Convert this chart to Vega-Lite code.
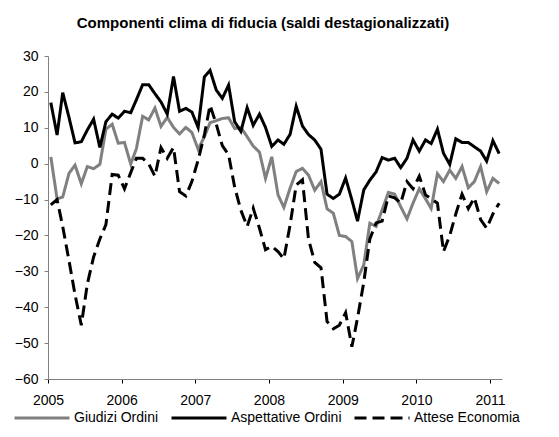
{
"$schema": "https://vega.github.io/schema/vega-lite/v6.json",
"width": 454, "height": 323,
"autosize": {"type": "none"},
"padding": {"left": 48, "top": 56, "right": 57, "bottom": 58},
"background": "white",
"config": {"view": {"stroke": null}, "font": "Liberation Sans"},
"title": {"text": "Componenti clima di fiducia (saldi destagionalizzati)", "font": "Liberation Sans", "fontSize": 15, "fontWeight": "bold", "color": "#000000", "anchor": "middle", "dx": -12, "offset": 18},
"data": {"values": [
{"d":"2005-01-15","s":"Giudizi Ordini","v":1.9},{"d":"2005-02-15","s":"Giudizi Ordini","v":-9.8},{"d":"2005-03-15","s":"Giudizi Ordini","v":-9.3},{"d":"2005-04-15","s":"Giudizi Ordini","v":-2.7},{"d":"2005-05-15","s":"Giudizi Ordini","v":-0.4},{"d":"2005-06-15","s":"Giudizi Ordini","v":-5.6},{"d":"2005-07-15","s":"Giudizi Ordini","v":-0.8},{"d":"2005-08-15","s":"Giudizi Ordini","v":-1.4},{"d":"2005-09-15","s":"Giudizi Ordini","v":-0.2},{"d":"2005-10-15","s":"Giudizi Ordini","v":9.6},{"d":"2005-11-15","s":"Giudizi Ordini","v":11},{"d":"2005-12-15","s":"Giudizi Ordini","v":5.7},
{"d":"2006-01-15","s":"Giudizi Ordini","v":5.9},{"d":"2006-02-15","s":"Giudizi Ordini","v":-0.1},{"d":"2006-03-15","s":"Giudizi Ordini","v":4.2},{"d":"2006-04-15","s":"Giudizi Ordini","v":13.2},{"d":"2006-05-15","s":"Giudizi Ordini","v":12.2},{"d":"2006-06-15","s":"Giudizi Ordini","v":15.5},{"d":"2006-07-15","s":"Giudizi Ordini","v":10.4},{"d":"2006-08-15","s":"Giudizi Ordini","v":12.9},{"d":"2006-09-15","s":"Giudizi Ordini","v":10.1},{"d":"2006-10-15","s":"Giudizi Ordini","v":8.3},{"d":"2006-11-15","s":"Giudizi Ordini","v":10.1},{"d":"2006-12-15","s":"Giudizi Ordini","v":8.7},
{"d":"2007-01-15","s":"Giudizi Ordini","v":4},{"d":"2007-02-15","s":"Giudizi Ordini","v":7.5},{"d":"2007-03-15","s":"Giudizi Ordini","v":11.4},{"d":"2007-04-15","s":"Giudizi Ordini","v":12},{"d":"2007-05-15","s":"Giudizi Ordini","v":12.6},{"d":"2007-06-15","s":"Giudizi Ordini","v":12.8},{"d":"2007-07-15","s":"Giudizi Ordini","v":9.8},{"d":"2007-08-15","s":"Giudizi Ordini","v":10.1},{"d":"2007-09-15","s":"Giudizi Ordini","v":7.5},{"d":"2007-10-15","s":"Giudizi Ordini","v":4.9},{"d":"2007-11-15","s":"Giudizi Ordini","v":3.2},{"d":"2007-12-15","s":"Giudizi Ordini","v":-4.1},
{"d":"2008-01-15","s":"Giudizi Ordini","v":1.9},{"d":"2008-02-15","s":"Giudizi Ordini","v":-8.7},{"d":"2008-03-15","s":"Giudizi Ordini","v":-12.2},{"d":"2008-04-15","s":"Giudizi Ordini","v":-6.8},{"d":"2008-05-15","s":"Giudizi Ordini","v":-2.2},{"d":"2008-06-15","s":"Giudizi Ordini","v":-1.3},{"d":"2008-07-15","s":"Giudizi Ordini","v":-3.2},{"d":"2008-08-15","s":"Giudizi Ordini","v":-7.4},{"d":"2008-09-15","s":"Giudizi Ordini","v":-5},{"d":"2008-10-15","s":"Giudizi Ordini","v":-12.6},{"d":"2008-11-15","s":"Giudizi Ordini","v":-13.8},{"d":"2008-12-15","s":"Giudizi Ordini","v":-20},
{"d":"2009-01-15","s":"Giudizi Ordini","v":-20.3},{"d":"2009-02-15","s":"Giudizi Ordini","v":-21.7},{"d":"2009-03-15","s":"Giudizi Ordini","v":-32},{"d":"2009-04-15","s":"Giudizi Ordini","v":-28.2},{"d":"2009-05-15","s":"Giudizi Ordini","v":-16.6},{"d":"2009-06-15","s":"Giudizi Ordini","v":-17.5},{"d":"2009-07-15","s":"Giudizi Ordini","v":-12.9},{"d":"2009-08-15","s":"Giudizi Ordini","v":-8},{"d":"2009-09-15","s":"Giudizi Ordini","v":-8.5},{"d":"2009-10-15","s":"Giudizi Ordini","v":-12},{"d":"2009-11-15","s":"Giudizi Ordini","v":-15.4},{"d":"2009-12-15","s":"Giudizi Ordini","v":-11},
{"d":"2010-01-15","s":"Giudizi Ordini","v":-7},{"d":"2010-02-15","s":"Giudizi Ordini","v":-9.8},{"d":"2010-03-15","s":"Giudizi Ordini","v":-12.5},{"d":"2010-04-15","s":"Giudizi Ordini","v":-2.8},{"d":"2010-05-15","s":"Giudizi Ordini","v":-5},{"d":"2010-06-15","s":"Giudizi Ordini","v":-1.8},{"d":"2010-07-15","s":"Giudizi Ordini","v":-4.1},{"d":"2010-08-15","s":"Giudizi Ordini","v":-0.8},{"d":"2010-09-15","s":"Giudizi Ordini","v":-6.7},{"d":"2010-10-15","s":"Giudizi Ordini","v":-5},{"d":"2010-11-15","s":"Giudizi Ordini","v":-0.8},{"d":"2010-12-15","s":"Giudizi Ordini","v":-7.8},
{"d":"2011-01-15","s":"Giudizi Ordini","v":-4.1},{"d":"2011-02-15","s":"Giudizi Ordini","v":-5.5},
{"d":"2005-01-15","s":"Aspettative Ordini","v":17},{"d":"2005-02-15","s":"Aspettative Ordini","v":8},{"d":"2005-03-15","s":"Aspettative Ordini","v":19.8},{"d":"2005-04-15","s":"Aspettative Ordini","v":12.9},{"d":"2005-05-15","s":"Aspettative Ordini","v":5.8},{"d":"2005-06-15","s":"Aspettative Ordini","v":6.1},{"d":"2005-07-15","s":"Aspettative Ordini","v":9.4},{"d":"2005-08-15","s":"Aspettative Ordini","v":12.4},{"d":"2005-09-15","s":"Aspettative Ordini","v":4.5},{"d":"2005-10-15","s":"Aspettative Ordini","v":11.7},{"d":"2005-11-15","s":"Aspettative Ordini","v":13.8},{"d":"2005-12-15","s":"Aspettative Ordini","v":12.7},
{"d":"2006-01-15","s":"Aspettative Ordini","v":14.6},{"d":"2006-02-15","s":"Aspettative Ordini","v":14.2},{"d":"2006-03-15","s":"Aspettative Ordini","v":17.8},{"d":"2006-04-15","s":"Aspettative Ordini","v":22},{"d":"2006-05-15","s":"Aspettative Ordini","v":22},{"d":"2006-06-15","s":"Aspettative Ordini","v":19.5},{"d":"2006-07-15","s":"Aspettative Ordini","v":17.2},{"d":"2006-08-15","s":"Aspettative Ordini","v":13.8},{"d":"2006-09-15","s":"Aspettative Ordini","v":24.3},{"d":"2006-10-15","s":"Aspettative Ordini","v":14.6},{"d":"2006-11-15","s":"Aspettative Ordini","v":15.4},{"d":"2006-12-15","s":"Aspettative Ordini","v":14.4},
{"d":"2007-01-15","s":"Aspettative Ordini","v":10.1},{"d":"2007-02-15","s":"Aspettative Ordini","v":24.2},{"d":"2007-03-15","s":"Aspettative Ordini","v":26},{"d":"2007-04-15","s":"Aspettative Ordini","v":20.5},{"d":"2007-05-15","s":"Aspettative Ordini","v":18.2},{"d":"2007-06-15","s":"Aspettative Ordini","v":21.9},{"d":"2007-07-15","s":"Aspettative Ordini","v":11.7},{"d":"2007-08-15","s":"Aspettative Ordini","v":9},{"d":"2007-09-15","s":"Aspettative Ordini","v":15.6},{"d":"2007-10-15","s":"Aspettative Ordini","v":10.7},{"d":"2007-11-15","s":"Aspettative Ordini","v":13.8},{"d":"2007-12-15","s":"Aspettative Ordini","v":10.1},
{"d":"2008-01-15","s":"Aspettative Ordini","v":4.8},{"d":"2008-02-15","s":"Aspettative Ordini","v":6.6},{"d":"2008-03-15","s":"Aspettative Ordini","v":5.4},{"d":"2008-04-15","s":"Aspettative Ordini","v":8.2},{"d":"2008-05-15","s":"Aspettative Ordini","v":16},{"d":"2008-06-15","s":"Aspettative Ordini","v":10.5},{"d":"2008-07-15","s":"Aspettative Ordini","v":8.1},{"d":"2008-08-15","s":"Aspettative Ordini","v":6.6},{"d":"2008-09-15","s":"Aspettative Ordini","v":4},{"d":"2008-10-15","s":"Aspettative Ordini","v":-8.5},{"d":"2008-11-15","s":"Aspettative Ordini","v":-9.7},{"d":"2008-12-15","s":"Aspettative Ordini","v":-8.5},
{"d":"2009-01-15","s":"Aspettative Ordini","v":-4},{"d":"2009-02-15","s":"Aspettative Ordini","v":-10.1},{"d":"2009-03-15","s":"Aspettative Ordini","v":-16},{"d":"2009-04-15","s":"Aspettative Ordini","v":-7.3},{"d":"2009-05-15","s":"Aspettative Ordini","v":-4.6},{"d":"2009-06-15","s":"Aspettative Ordini","v":-2.3},{"d":"2009-07-15","s":"Aspettative Ordini","v":1.7},{"d":"2009-08-15","s":"Aspettative Ordini","v":1},{"d":"2009-09-15","s":"Aspettative Ordini","v":1.5},{"d":"2009-10-15","s":"Aspettative Ordini","v":-1.1},{"d":"2009-11-15","s":"Aspettative Ordini","v":1.5},{"d":"2009-12-15","s":"Aspettative Ordini","v":6.6},
{"d":"2010-01-15","s":"Aspettative Ordini","v":3.5},{"d":"2010-02-15","s":"Aspettative Ordini","v":6.6},{"d":"2010-03-15","s":"Aspettative Ordini","v":5.6},{"d":"2010-04-15","s":"Aspettative Ordini","v":9.6},{"d":"2010-05-15","s":"Aspettative Ordini","v":2.9},{"d":"2010-06-15","s":"Aspettative Ordini","v":-0.2},{"d":"2010-07-15","s":"Aspettative Ordini","v":6.9},{"d":"2010-08-15","s":"Aspettative Ordini","v":5.9},{"d":"2010-09-15","s":"Aspettative Ordini","v":5.9},{"d":"2010-10-15","s":"Aspettative Ordini","v":4.7},{"d":"2010-11-15","s":"Aspettative Ordini","v":3.5},{"d":"2010-12-15","s":"Aspettative Ordini","v":0.7},
{"d":"2011-01-15","s":"Aspettative Ordini","v":6.4},{"d":"2011-02-15","s":"Aspettative Ordini","v":2.8},
{"d":"2005-01-15","s":"Attese Economia","v":-11.5},{"d":"2005-02-15","s":"Attese Economia","v":-10},{"d":"2005-03-15","s":"Attese Economia","v":-17.5},{"d":"2005-04-15","s":"Attese Economia","v":-27},{"d":"2005-05-15","s":"Attese Economia","v":-36.5},{"d":"2005-06-15","s":"Attese Economia","v":-45},{"d":"2005-07-15","s":"Attese Economia","v":-33.5},{"d":"2005-08-15","s":"Attese Economia","v":-26},{"d":"2005-09-15","s":"Attese Economia","v":-21},{"d":"2005-10-15","s":"Attese Economia","v":-17},{"d":"2005-11-15","s":"Attese Economia","v":-3},{"d":"2005-12-15","s":"Attese Economia","v":-3.2},
{"d":"2006-01-15","s":"Attese Economia","v":-7},{"d":"2006-02-15","s":"Attese Economia","v":-2.5},{"d":"2006-03-15","s":"Attese Economia","v":1.5},{"d":"2006-04-15","s":"Attese Economia","v":1.5},{"d":"2006-05-15","s":"Attese Economia","v":0},{"d":"2006-06-15","s":"Attese Economia","v":-3.5},{"d":"2006-07-15","s":"Attese Economia","v":4.5},{"d":"2006-08-15","s":"Attese Economia","v":1.5},{"d":"2006-09-15","s":"Attese Economia","v":4.5},{"d":"2006-10-15","s":"Attese Economia","v":-7.8},{"d":"2006-11-15","s":"Attese Economia","v":-9},{"d":"2006-12-15","s":"Attese Economia","v":-5},
{"d":"2007-01-15","s":"Attese Economia","v":1},{"d":"2007-02-15","s":"Attese Economia","v":8},{"d":"2007-03-15","s":"Attese Economia","v":16.3},{"d":"2007-04-15","s":"Attese Economia","v":11},{"d":"2007-05-15","s":"Attese Economia","v":5},{"d":"2007-06-15","s":"Attese Economia","v":2.5},{"d":"2007-07-15","s":"Attese Economia","v":-6.5},{"d":"2007-08-15","s":"Attese Economia","v":-13},{"d":"2007-09-15","s":"Attese Economia","v":-17.5},{"d":"2007-10-15","s":"Attese Economia","v":-12.4},{"d":"2007-11-15","s":"Attese Economia","v":-18},{"d":"2007-12-15","s":"Attese Economia","v":-24},
{"d":"2008-01-15","s":"Attese Economia","v":-23},{"d":"2008-02-15","s":"Attese Economia","v":-24.5},{"d":"2008-03-15","s":"Attese Economia","v":-26.5},{"d":"2008-04-15","s":"Attese Economia","v":-17},{"d":"2008-05-15","s":"Attese Economia","v":-6},{"d":"2008-06-15","s":"Attese Economia","v":-4.5},{"d":"2008-07-15","s":"Attese Economia","v":-21},{"d":"2008-08-15","s":"Attese Economia","v":-27.5},{"d":"2008-09-15","s":"Attese Economia","v":-29},{"d":"2008-10-15","s":"Attese Economia","v":-44},{"d":"2008-11-15","s":"Attese Economia","v":-46},{"d":"2008-12-15","s":"Attese Economia","v":-45},
{"d":"2009-01-15","s":"Attese Economia","v":-41.5},{"d":"2009-02-15","s":"Attese Economia","v":-51},{"d":"2009-03-15","s":"Attese Economia","v":-43},{"d":"2009-04-15","s":"Attese Economia","v":-33},{"d":"2009-05-15","s":"Attese Economia","v":-21},{"d":"2009-06-15","s":"Attese Economia","v":-16.5},{"d":"2009-07-15","s":"Attese Economia","v":-16},{"d":"2009-08-15","s":"Attese Economia","v":-9},{"d":"2009-09-15","s":"Attese Economia","v":-9.5},{"d":"2009-10-15","s":"Attese Economia","v":-11},{"d":"2009-11-15","s":"Attese Economia","v":-5},{"d":"2009-12-15","s":"Attese Economia","v":-7},
{"d":"2010-01-15","s":"Attese Economia","v":-3.5},{"d":"2010-02-15","s":"Attese Economia","v":-8.7},{"d":"2010-03-15","s":"Attese Economia","v":-9.8},{"d":"2010-04-15","s":"Attese Economia","v":-11},{"d":"2010-05-15","s":"Attese Economia","v":-24.5},{"d":"2010-06-15","s":"Attese Economia","v":-20},{"d":"2010-07-15","s":"Attese Economia","v":-14},{"d":"2010-08-15","s":"Attese Economia","v":-8.5},{"d":"2010-09-15","s":"Attese Economia","v":-12.5},{"d":"2010-10-15","s":"Attese Economia","v":-9.5},{"d":"2010-11-15","s":"Attese Economia","v":-15.6},{"d":"2010-12-15","s":"Attese Economia","v":-18},
{"d":"2011-01-15","s":"Attese Economia","v":-14},{"d":"2011-02-15","s":"Attese Economia","v":-11}
]},
"mark": {"type": "line", "strokeWidth": 3},
"encoding": {
"x": {"field": "d", "type": "temporal",
 "scale": {"domain": [{"year": 2005, "month": 1, "date": 1}, {"year": 2011, "month": 3, "date": 1}]},
 "axis": {"title": null, "format": "%Y", "tickCount": {"interval": "year", "step": 1}, "grid": false, "domainColor": "#808080", "domainWidth": 1, "tickColor": "#000000", "tickSize": 4, "labelFontSize": 14, "labelFont": "Liberation Sans", "labelColor": "#000000", "labelPadding": 10, "labelFlush": false, "labelOverlap": false}},
"y": {"field": "v", "type": "quantitative",
 "scale": {"domain": [-60, 30], "nice": false, "zero": false},
 "axis": {"title": null, "values": [-60,-50,-40,-30,-20,-10,0,10,20,30], "grid": false, "domainColor": "#808080", "domainWidth": 1, "tickColor": "#808080", "tickSize": 4, "labelFontSize": 14, "labelFont": "Liberation Sans", "labelColor": "#000000", "labelPadding": 6}},
"color": {"field": "s", "type": "nominal",
 "scale": {"domain": ["Giudizi Ordini", "Aspettative Ordini", "Attese Economia"], "range": ["#808080", "#000000", "#000000"]},
 "legend": {"title": null, "orient": "none", "legendX": -35, "legendY": 333, "direction": "horizontal", "symbolType": "stroke", "symbolSize": 3025, "symbolStrokeWidth": 3, "labelFontSize": 14, "labelFont": "Liberation Sans", "labelColor": "#000000", "labelOffset": 3, "columnPadding": 6}},
"strokeDash": {"field": "s", "type": "nominal",
 "scale": {"domain": ["Giudizi Ordini", "Aspettative Ordini", "Attese Economia"], "range": [[1,0],[1,0],[12,6]]},
 "legend": {"title": null}}
}
}
